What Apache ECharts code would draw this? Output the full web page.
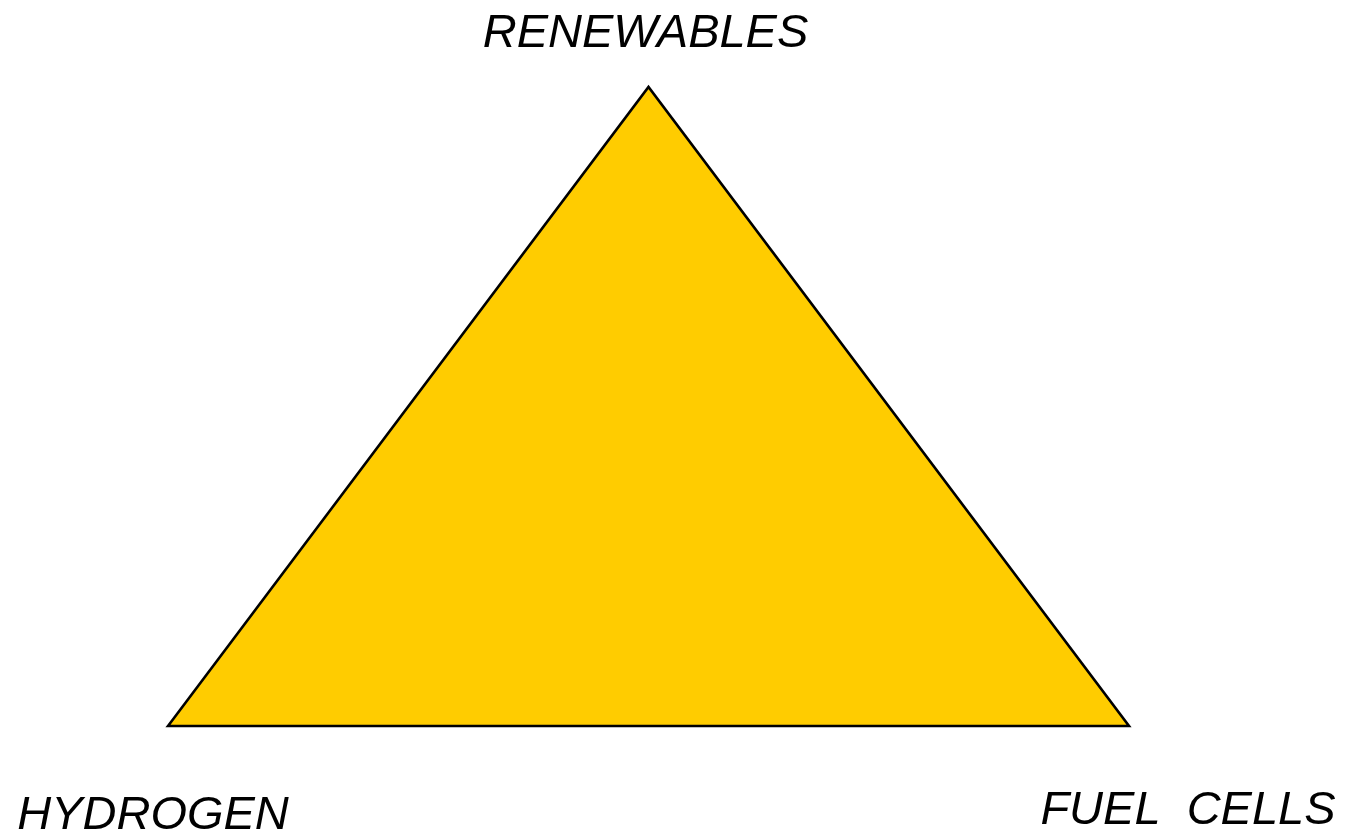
<!DOCTYPE html>
<html>
<head>
<meta charset="utf-8">
<script src="https://cdn.jsdelivr.net/npm/echarts@6/dist/echarts.min.js"></script>
<style>
  html, body { margin: 0; padding: 0; background: #fff; }
  #chart { width: 1348px; height: 835px; }
</style>
</head>
<body>
<div id="chart"></div>
<script>
// triangle corners in unit coordinates
const vertexNames = ["HYDROGEN", "RENEWABLES", "FUEL  CELLS"];
const vertexX = [0, 0.5, 1];
const vertexY = [0, 1, 0];

const labelOffsets = [[-15, 90], [-3, -53], [59, 85]];

const chart = echarts.init(document.getElementById("chart"));

const points = vertexX.map((x, i) => [x, vertexY[i]]);

chart.setOption({
  animation: false,
  grid: { left: 168, right: 219, top: 87, bottom: 109 },
  xAxis: { type: "value", min: 0, max: 1, show: false },
  yAxis: { type: "value", min: 0, max: 1, show: false },
  series: [
    {
      type: "custom",
      data: [0],
      renderItem: (params, api) => {
        return {
          type: "polygon",
          shape: { points: points.map((p) => api.coord(p)) },
          style: { fill: "#FFCC00", stroke: "#000", lineWidth: 2.6, lineJoin: "miter" },
        };
      },
    },
    {
      // corner labels
      type: "custom",
      data: points,
      renderItem: (params, api) => {
        const i = params.dataIndex;
        const pt = api.coord([api.value(0), api.value(1)]);
        return {
          type: "text",
          x: pt[0] + labelOffsets[i][0],
          y: pt[1] + labelOffsets[i][1],
          style: {
            text: vertexNames[i],
            fill: "#000",
            font: "italic 47px 'Liberation Sans', Arial, sans-serif",
            align: "center",
            verticalAlign: "middle",
          },
        };
      },
    },
  ],
});
</script>
</body>
</html>
